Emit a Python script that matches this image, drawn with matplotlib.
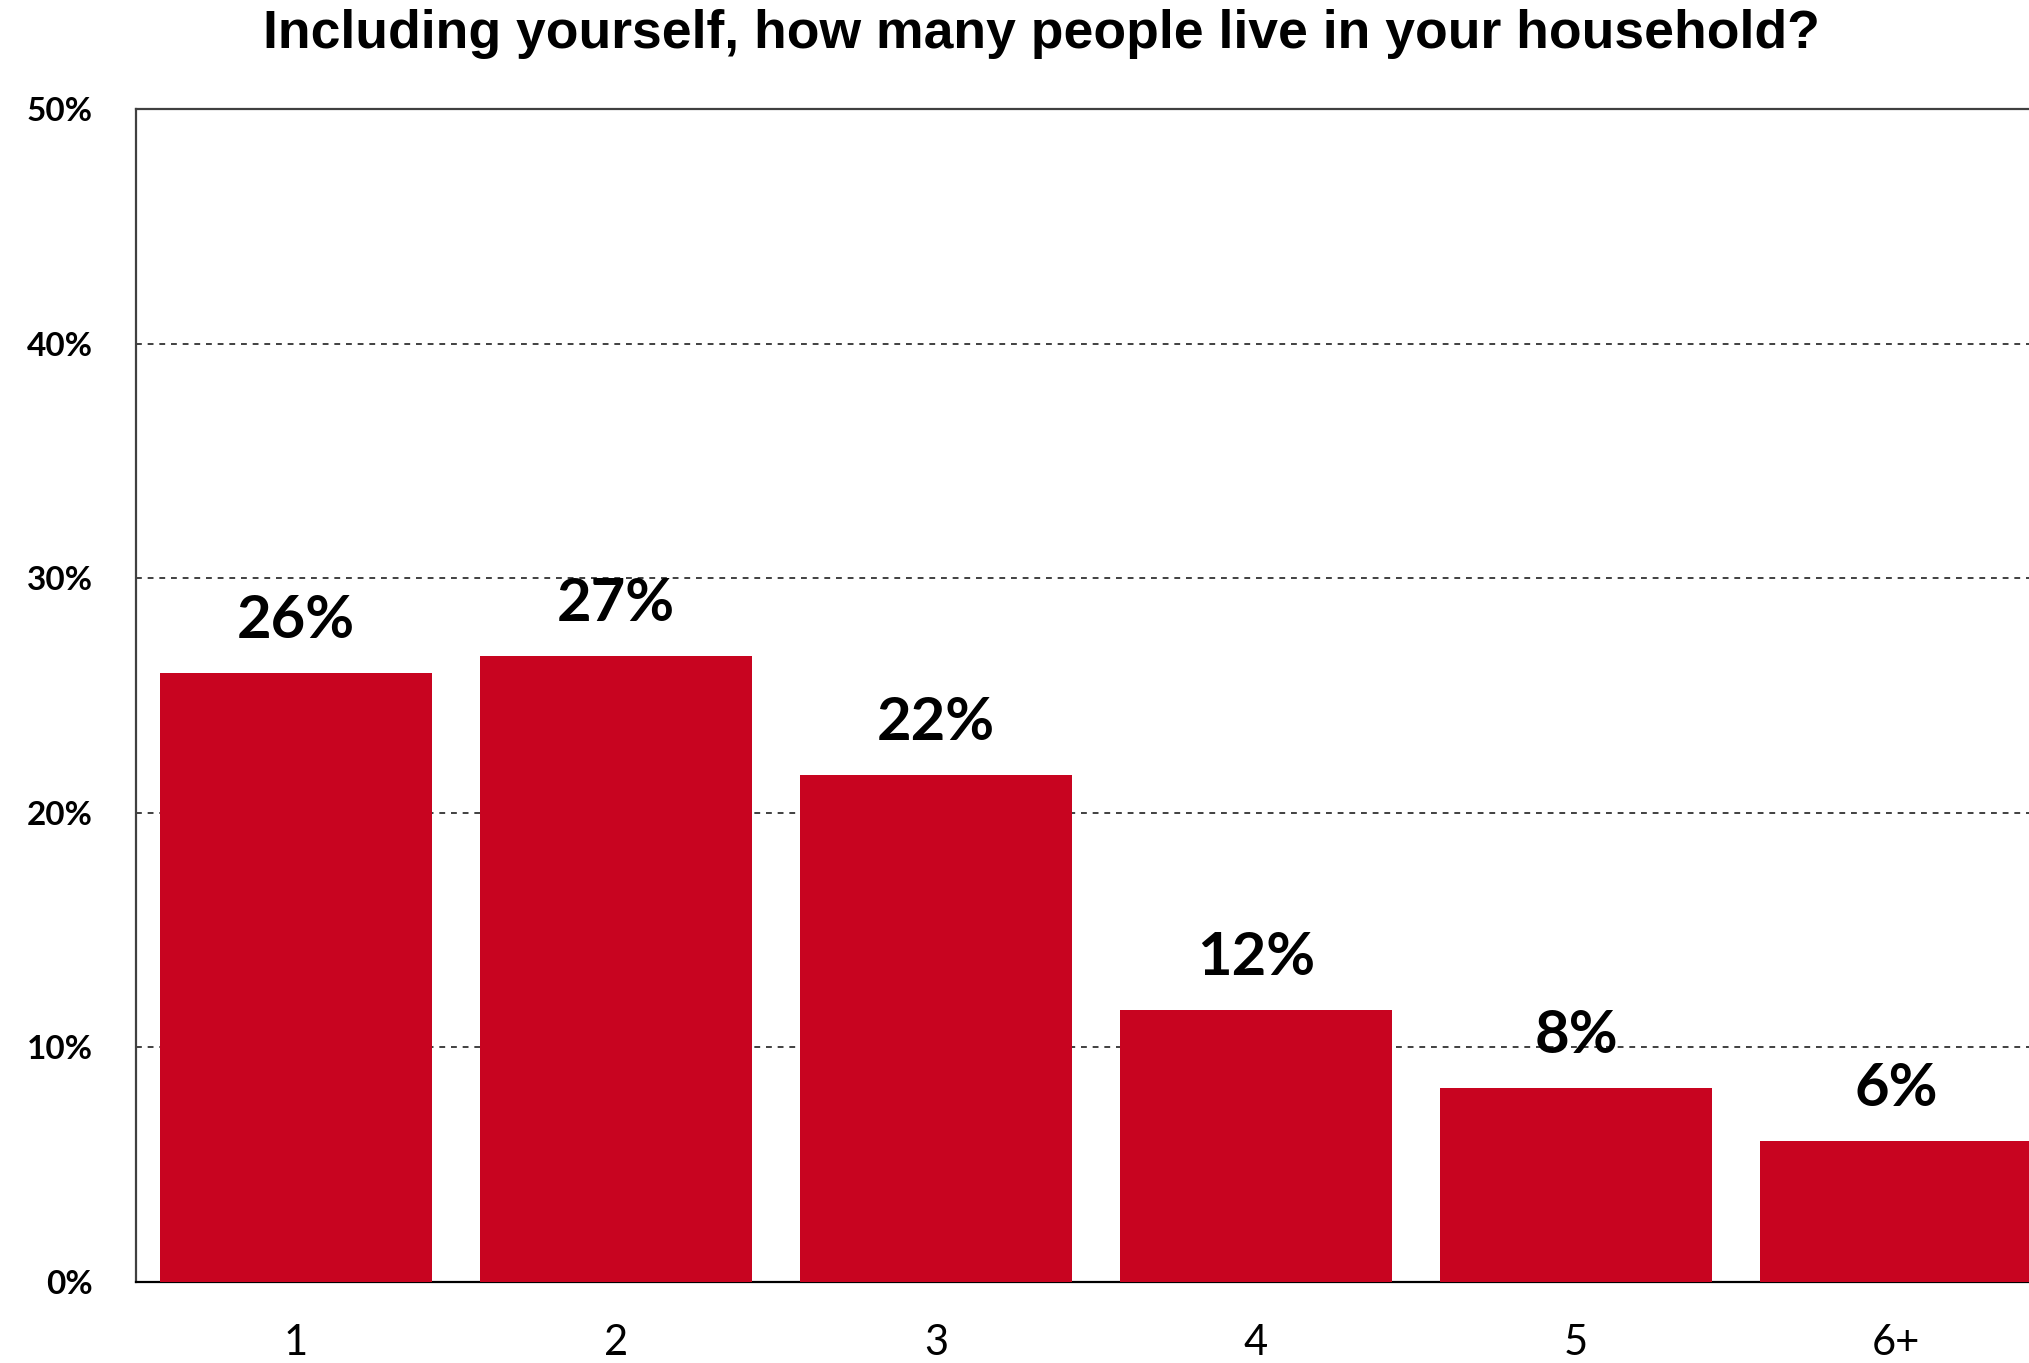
import matplotlib
matplotlib.use("Agg")
import matplotlib.pyplot as plt
from matplotlib.ticker import FuncFormatter

# Household size survey results (share of respondents, %)
categories = ["1", "2", "3", "4", "5", "6+"]
shares = [25.95, 26.7, 21.6, 11.6, 8.26, 6.0]
y_ticks = [0, 10, 20, 30, 40, 50]

title = "Including yourself, how many people live in your household?"
bar_color = "#C80420"

W, H = 2029, 1363
fig = plt.figure(figsize=(W / 100, H / 100), dpi=100)
fig.patch.set_facecolor("white")

# Plot area runs past the right edge of the canvas
ax_left, ax_right = 136, 2056
ax_top, ax_bottom = 109, 1282
ax = fig.add_axes([ax_left / W, (H - ax_bottom) / H,
                   (ax_right - ax_left) / W, (ax_bottom - ax_top) / H])

x = range(len(categories))
ax.bar(x, shares, width=0.849, color=bar_color, zorder=3)

ax.set_xlim(-0.5, len(categories) - 0.5)
ax.set_ylim(0, 50)
ax.set_yticks(y_ticks)
ax.yaxis.set_major_formatter(FuncFormatter(lambda v, _: f"{v:.0f}%"))
ax.set_xticks(list(x))
ax.set_xticklabels(categories)

for lbl in ax.get_yticklabels():
    lbl.set_fontfamily("Lato")
    lbl.set_fontweight("bold")
    lbl.set_fontsize(24)
for lbl in ax.get_xticklabels():
    lbl.set_fontfamily("Lato")
    lbl.set_fontsize(30)

ax.tick_params(axis="y", length=0, pad=31)
ax.tick_params(axis="x", length=0, pad=30)

ax.grid(axis="y", linestyle=(0, (3, 3)), color="#404040", linewidth=1.4, zorder=1)
ax.grid(axis="x", visible=False)

for side in ["left", "top"]:
    ax.spines[side].set_color("#404040")
    ax.spines[side].set_linewidth(1.6)
ax.spines["bottom"].set_color("black")
ax.spines["bottom"].set_linewidth(1.6)
ax.spines["right"].set_visible(False)

# Value labels above bars
for xi, v in zip(x, shares):
    ax.annotate(f"{v:.0f}%", xy=(xi, v), xytext=(0, 18), textcoords="offset points",
                ha="center", va="bottom", fontsize=43, fontweight="bold",
                fontfamily="Lato", color="black", zorder=4)

fig.text(1041 / W, 1 - 34 / H, title, ha="center", va="center",
         fontsize=38.5, fontweight="bold", fontfamily="Liberation Sans", color="black")

fig.savefig("out.png", dpi=100, facecolor="white")
